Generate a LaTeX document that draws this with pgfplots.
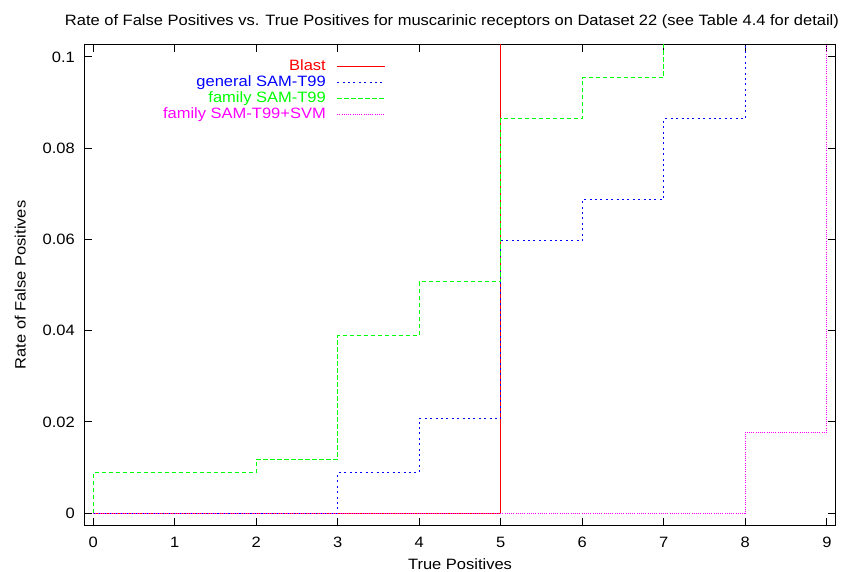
\documentclass[border=0pt]{standalone}
\usepackage{fontspec}
\setmainfont{Liberation Sans}[FakeStretch=1.1]
\usepackage{pgfplots}
\pgfplotsset{compat=1.18}
\definecolor{gred}{RGB}{255,0,0}
\definecolor{gblue}{RGB}{0,0,255}
\definecolor{ggreen}{RGB}{0,255,0}
\definecolor{gmag}{RGB}{255,0,255}
\begin{document}
\fontsize{15bp}{18bp}\selectfont
\begin{tikzpicture}
\begin{axis}[
  scale only axis,
  width=750bp, height=480bp,
  xmin=-0.1, xmax=9.1,
  ymin=-0.00257, ymax=0.1026,
  xtick={0,1,2,3,4,5,6,7,8,9},
  ytick={0,0.02,0.04,0.06,0.08,0.1},
  yticklabels={0,0.02,0.04,0.06,0.08,0.1},
  xticklabels={0,1,2,3,4,5,6,7,8,9},
  tick align=inside,
  major tick length=7bp,
  axis line style={line width=1bp},
  every tick/.style={black, line width=1bp},
  font=\fontsize{15bp}{18bp}\selectfont,
  yticklabel style={inner sep=0pt, xshift=-10bp},
  xticklabel style={inner sep=0pt, yshift=-12bp},
  every axis title shift=0pt,
  title={Rate of False Positives vs. True Positives for muscarinic receptors on Dataset 22 (see Table 4.4 for detail)},
  title style={at={(axis description cs:0.4893,1.0483)}, anchor=center, inner sep=0pt},
  xlabel={True Positives},
  xlabel style={at={(axis description cs:0.5,-0.06875)}, anchor=north, inner sep=0pt},
  ylabel={Rate of False Positives},
  ylabel style={at={(axis description cs:-0.0787,0.5)}, anchor=south, inner sep=0pt},
  legend style={draw=none, fill=none, inner sep=0pt, at={(0.4013,0.9698)}, anchor=north east,
    nodes={inner sep=0pt, text height=11bp, text depth=3bp}, row sep=2bp, column sep=11bp,
    font=\fontsize{15bp}{18bp}\selectfont},
  legend cell align=right,
  legend plot pos=right,
  legend image code/.code={\draw[#1] (0bp,0bp) -- (48bp,0bp);},
]
\addplot[const plot, gred, line width=1bp] coordinates {(0,0) (5,0.2)};
\addlegendentry{\textcolor{gred}{Blast}}
\addplot[const plot, gblue, line width=1bp, dash pattern=on 2bp off 3.4bp] coordinates {
(0,0) (3,0.0089) (4,0.0208) (5,0.0597) (6,0.0687) (7,0.0864) (8,0.2)};
\addlegendentry{\textcolor{gblue}{general SAM-T99}}
\addplot[const plot, ggreen, line width=1bp, dash pattern=on 4.5bp off 2.5bp] coordinates {
(0,0) (0,0.0089) (2,0.0118) (3,0.0389) (4,0.0507) (5,0.0864) (6,0.0954) (7,0.2)};
\addlegendentry{\textcolor{ggreen}{family SAM-T99}}
\addplot[const plot, gmag, line width=1bp, dash pattern=on 1bp off 1.2bp] coordinates {
(0,0) (8,0.0178) (9,0.2)};
\addlegendentry{\textcolor{gmag}{family SAM-T99+SVM}}
\end{axis}
\pgfresetboundingbox
\path[use as bounding box] ([xshift=-85bp,yshift=-46bp]current axis.south west) rectangle ([xshift=21bp,yshift=45bp]current axis.north east);
\end{tikzpicture}
\end{document}
